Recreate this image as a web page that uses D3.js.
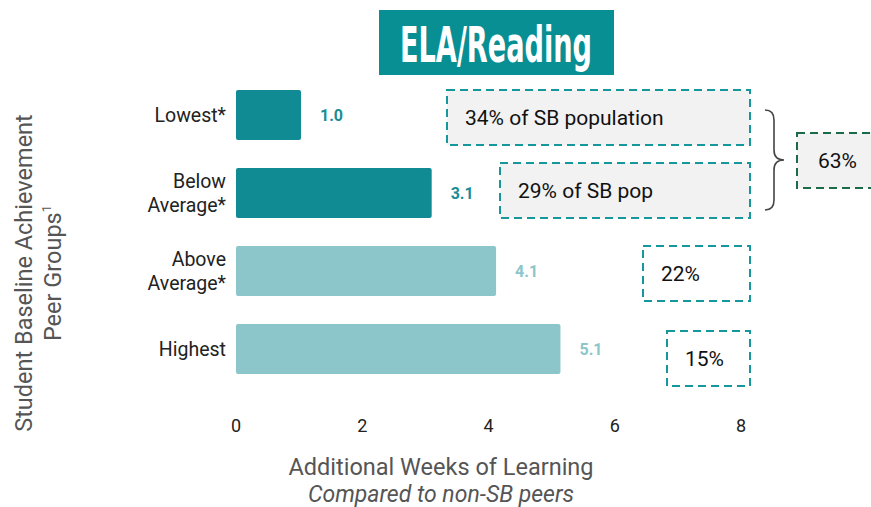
<!DOCTYPE html>
<html lang="en">
<head>
<meta charset="UTF-8">
<title>ELA/Reading</title>
<style>
  * { margin: 0; padding: 0; box-sizing: border-box; }
  body { background: #fff; font-family: Roboto, 'Noto Sans', sans-serif; overflow: hidden; }
  svg { display: block; }
</style>
</head>
<body>
<svg width="871" height="507"></svg>
<script src="https://d3js.org/d3.v7.min.js"></script>
<script>
// Data
const groups = ["Lowest*", "Below Average*", "Above Average*", "Highest"];
const groupLines = [["Lowest*"], ["Below", "Average*"], ["Above", "Average*"], ["Highest"]];
const weeks = [1.03, 3.1, 4.12, 5.14];
const shade = ["dark", "dark", "light", "light"];
const shareText = ["34% of SB population", "29% of SB pop", "22%", "15%"];
const combinedText = "63%";
const xTicks = [0, 2, 4, 6, 8];

const colors = { dark: "#118b93", light: "#8cc6ca" };
const labelColors = { dark: "#1a8d94", light: "#8cc6ca" };

// Layout for annotation boxes (left edge px, vertical offset from band center)
const boxLeft = [447, 500, 643, 667];
const boxShift = [2.5, -2.5, 2.5, 9.5];
const boxRight = 750;
const boxH = 55;

const svg = d3.select("svg");

const x = d3.scaleLinear().domain([0, 8]).range([236, 741]);
const y = d3.scaleBand().domain(groups).range([76, 388]).paddingInner(0.36).paddingOuter(0.18);

// Title
svg.append("rect").attr("x", 379).attr("y", 10).attr("width", 235).attr("height", 65).attr("fill", "#078f94");
svg.append("text").attr("x", 496).attr("y", 62).attr("text-anchor", "middle")
  .attr("fill", "#fff").attr("font-family", "'Liberation Sans Narrow', 'DejaVu Sans Condensed', sans-serif")
  .attr("font-weight", "bold").attr("font-size", 49)
  .attr("textLength", 192).attr("lengthAdjust", "spacingAndGlyphs")
  .text("ELA/Reading");

// Bars
svg.append("g").selectAll("rect").data(groups).join("rect")
  .attr("x", x(0))
  .attr("y", d => y(d))
  .attr("width", (d, i) => x(weeks[i]) - x(0))
  .attr("height", y.bandwidth())
  .attr("rx", 2)
  .attr("fill", (d, i) => colors[shade[i]]);

// Value labels
svg.append("g").selectAll("text").data(groups).join("text")
  .attr("x", (d, i) => x(weeks[i]) + 19)
  .attr("y", d => y(d) + y.bandwidth() / 2 + 6)
  .attr("font-size", 16).attr("font-weight", "bold")
  .attr("fill", (d, i) => labelColors[shade[i]])
  .text((d, i) => weeks[i].toFixed(1));

// Category labels
const cat = svg.append("g").selectAll("text").data(groups).join("text")
  .attr("text-anchor", "end").attr("font-size", 19.5).attr("fill", "#222");
cat.each(function(d, i) {
  const lines = groupLines[i];
  const cy = y(d) + y.bandwidth() / 2;
  const t = d3.select(this);
  lines.forEach((ln, k) => {
    t.append("tspan").attr("x", 226)
      .attr("y", cy + 7 + (k - (lines.length - 1) / 2) * 24)
      .text(ln);
  });
});

// X axis tick labels
svg.append("g").selectAll("text").data(xTicks).join("text")
  .attr("x", d => x(d)).attr("y", 432)
  .attr("text-anchor", "middle").attr("font-size", 18).attr("fill", "#222")
  .text(d => d);

// Axis titles
svg.append("text").attr("x", 441).attr("y", 475).attr("text-anchor", "middle")
  .attr("font-size", 23.5).attr("fill", "#555").text("Additional Weeks of Learning");
svg.append("text").attr("x", 441).attr("y", 502).attr("text-anchor", "middle")
  .attr("font-size", 23).attr("font-style", "italic").attr("fill", "#555").text("Compared to non-SB peers");

const yt = svg.append("text").attr("transform", "translate(0,273) rotate(-90)")
  .attr("text-anchor", "middle").attr("font-size", 23.5).attr("fill", "#555");
yt.append("tspan").attr("x", 0).attr("y", 32).text("Student Baseline Achievement");
const l2 = yt.append("tspan").attr("x", 0).attr("y", 61).text("Peer Groups");
l2.append("tspan").attr("font-size", 13).attr("dy", -10).text("1");

// Annotation boxes
const boxes = svg.append("g").selectAll("g").data(groups).join("g");
boxes.append("rect")
  .attr("x", (d, i) => boxLeft[i])
  .attr("y", (d, i) => y(d) + y.bandwidth() / 2 + boxShift[i] - boxH / 2)
  .attr("width", (d, i) => boxRight - boxLeft[i])
  .attr("height", boxH)
  .attr("fill", (d, i) => i < 2 ? "#f2f2f2" : "#fff")
  .attr("stroke", "#15979c").attr("stroke-width", 2).attr("stroke-dasharray", "8,5");
boxes.append("text")
  .attr("x", (d, i) => boxLeft[i] + 18)
  .attr("y", (d, i) => y(d) + y.bandwidth() / 2 + boxShift[i] + 7.5)
  .attr("font-size", 21).attr("fill", "#111")
  .text((d, i) => shareText[i]);

// Brace grouping the first two boxes
const b0 = 110, b1 = 210, bm = 160;
svg.append("path")
  .attr("d", `M765,${b0} Q774,${b0} 774,${b0 + 10} L774,${bm - 10} Q774,${bm} 784,${bm} Q774,${bm} 774,${bm + 10} L774,${b1 - 10} Q774,${b1} 765,${b1}`)
  .attr("fill", "none").attr("stroke", "#444").attr("stroke-width", 1.6);

svg.append("rect").attr("x", 797).attr("y", 133).attr("width", 90).attr("height", 55)
  .attr("fill", "#f2f2f2").attr("stroke", "#1b6b4a").attr("stroke-width", 2).attr("stroke-dasharray", "8,5");
svg.append("text").attr("x", 818).attr("y", 168).attr("font-size", 21).attr("fill", "#111").text(combinedText);
</script>
</body>
</html>
